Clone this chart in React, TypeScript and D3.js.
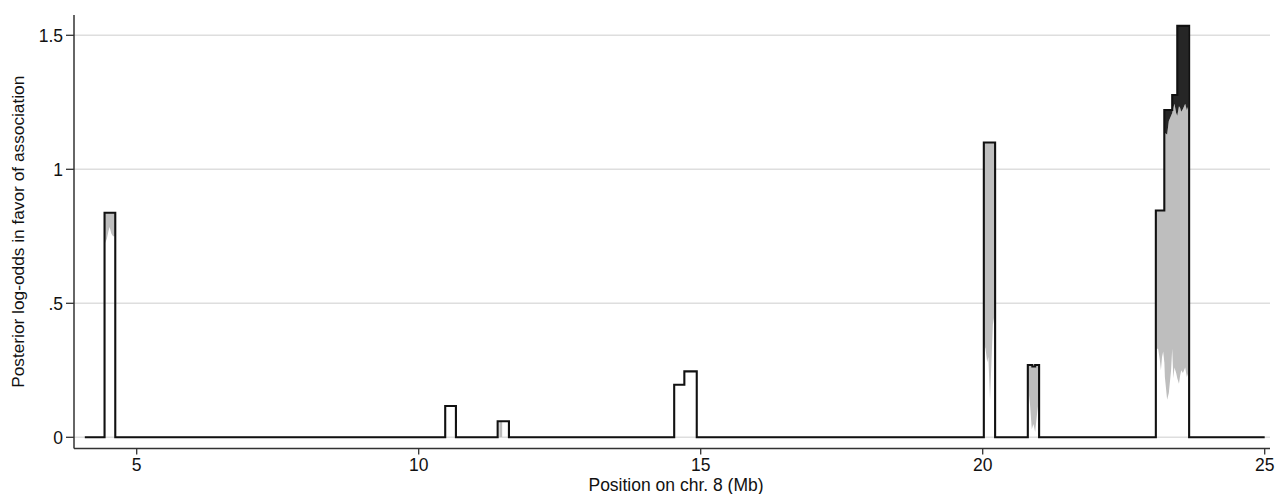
import React from "react";
import * as d3 from "d3";

// Upper envelope (step line): [position Mb, log-odds]
const upperSteps: [number, number][] = [
  [4.08, 0], [4.43, 0.838], [4.62, 0],
  [10.47, 0.117], [10.66, 0],
  [11.40, 0.060], [11.60, 0],
  [14.53, 0.196], [14.71, 0.246], [14.93, 0],
  [20.02, 1.10], [20.22, 0],
  [20.80, 0.27], [20.88, 0.264], [20.93, 0.27], [21.0, 0],
  [23.07, 0.846], [23.22, 1.221], [23.36, 1.277], [23.45, 1.535], [23.66, 0],
  [25.0, 0],
];

// Gray band: [position, lower, upper(mid)]
const grayPeak1: [number, number, number][] = [
  [4.43, 0.72, 0.84], [4.47, 0.74, 0.84], [4.50, 0.77, 0.84], [4.52, 0.785, 0.84],
  [4.55, 0.76, 0.84], [4.58, 0.75, 0.84], [4.62, 0.75, 0.84],
];
const grayPeak2: [number, number, number][] = [
  [11.43, 0, 0.06], [11.48, 0, 0.06],
];
const grayPeak3: [number, number, number][] = [
  [20.02, 0.35, 1.1], [20.05, 0.33, 1.1], [20.08, 0.28, 1.1], [20.10, 0.30, 1.1],
  [20.13, 0.14, 1.1], [20.15, 0.25, 1.1], [20.18, 0.42, 1.1], [20.22, 0.47, 1.1],
];
const grayPeak4: [number, number, number][] = [
  [20.80, 0.2, 0.27], [20.84, 0.12, 0.27], [20.87, 0.03, 0.27], [20.90, 0.05, 0.27],
  [20.93, 0.02, 0.27], [20.96, 0.08, 0.27], [21.0, 0.15, 0.27],
];
const grayPeak5: [number, number, number][] = [
  [23.07, 0.33, 0.846], [23.11, 0.33, 0.846], [23.14, 0.29, 0.846], [23.16, 0.25, 0.846],
  [23.18, 0.30, 0.846], [23.20, 0.32, 0.846], [23.22, 0.28, 0.846], [23.221, 0.28, 1.14],
  [23.23, 0.225, 1.135], [23.27, 0.14, 1.13], [23.30, 0.165, 1.18], [23.34, 0.25, 1.20],
  [23.36, 0.33, 1.21], [23.38, 0.22, 1.23], [23.40, 0.26, 1.245], [23.43, 0.24, 1.21],
  [23.45, 0.22, 1.20], [23.48, 0.20, 1.235], [23.50, 0.23, 1.23], [23.52, 0.25, 1.215],
  [23.55, 0.24, 1.225], [23.59, 0.26, 1.245], [23.62, 0.225, 1.22], [23.645, 0.24, 1.235],
];
const grayPeaks = [grayPeak1, grayPeak2, grayPeak3, grayPeak4, grayPeak5];

const xTicks = [5, 10, 15, 20, 25];
const yTicks = [0, 0.5, 1, 1.5];
const yTickLabels = ["0", ".5", "1", "1.5"];
const xTitle = "Position on chr. 8 (Mb)";
const yTitle = "Posterior log-odds in favor of association";

const W = 1275, H = 494;
const plotLeft = 74, plotRight = 1270, plotTop = 15, plotBottom = 448.5;

export default function App() {
  const x = d3.scaleLinear().domain([5, 25]).range([136.7, 1264.7]);
  const y = d3.scaleLinear().domain([0, 1.5]).range([437.3, 35.3]);

  const stepLine = d3.line<[number, number]>()
    .x(d => x(d[0])).y(d => y(d[1])).curve(d3.curveStepAfter);
  const stepArea = d3.area<[number, number]>()
    .x(d => x(d[0])).y0(y(0)).y1(d => y(d[1])).curve(d3.curveStepAfter);
  const grayArea = d3.area<[number, number, number]>()
    .x(d => x(d[0])).y0(d => y(d[1])).y1(d => y(d[2]));
  const darkArea = d3.area<[number, number, number]>()
    .x(d => x(d[0])).y0(d => y(d[2])).y1(y(1.6));

  const font = "'Liberation Sans', Arial, Helvetica, sans-serif";

  return (
    <svg width={W} height={H} style={{ position: "absolute", left: 0, top: 0, background: "#fff" }}
      fontFamily={font}>
      <defs>
        <clipPath id="under">
          <path d={stepArea(upperSteps) || ""} />
        </clipPath>
      </defs>
      {yTicks.map(t => (
        <line key={"g" + t} x1={plotLeft} x2={plotRight} y1={y(t)} y2={y(t)}
          stroke="#dedede" strokeWidth={1.4} />
      ))}
      <g clipPath="url(#under)">
        {grayPeaks.map((p, i) => (
          <path key={"gr" + i} d={grayArea(p) || ""} fill="#bebebe" />
        ))}
        <path d={darkArea(grayPeak5) || ""} fill="#262626" />
      </g>
      <path d={stepLine(upperSteps) || ""} fill="none" stroke="#111" strokeWidth={2.1} />
      {/* axes */}
      <line x1={plotLeft} x2={plotLeft} y1={plotTop} y2={plotBottom} stroke="#333" strokeWidth={1.5} />
      <line x1={plotLeft} x2={plotRight} y1={plotBottom} y2={plotBottom} stroke="#333" strokeWidth={1.5} />
      {yTicks.map((t, i) => (
        <g key={"yt" + t}>
          <line x1={plotLeft - 8} x2={plotLeft} y1={y(t)} y2={y(t)} stroke="#333" strokeWidth={1.3} />
          <text x={63} y={y(t)} dy="0.36em" textAnchor="end" fontSize={17.5} fill="#111">{yTickLabels[i]}</text>
        </g>
      ))}
      {xTicks.map(t => (
        <g key={"xt" + t}>
          <line x1={x(t)} x2={x(t)} y1={plotBottom} y2={plotBottom + 6} stroke="#333" strokeWidth={1.3} />
          <text x={x(t)} y={471} textAnchor="middle" fontSize={17.5} fill="#111">{t}</text>
        </g>
      ))}
      <text x={(plotLeft + plotRight) / 2 + 4} y={491} textAnchor="middle" fontSize={17.5} fill="#111">{xTitle}</text>
      <text transform={`translate(24, ${(plotTop + plotBottom) / 2}) rotate(-90)`} textAnchor="middle"
        fontSize={17.3} fill="#111">{yTitle}</text>
    </svg>
  );
}
